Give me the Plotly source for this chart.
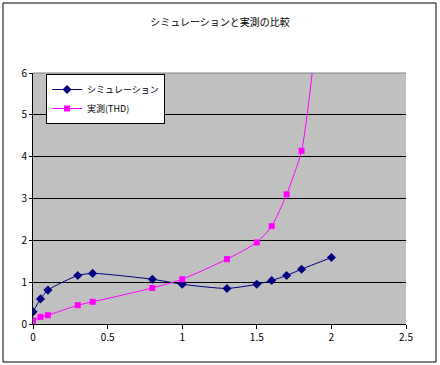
import plotly.graph_objects as go

title = "シミュレーションと実測の比較"
sim_name = "シミュレーション"
meas_name = "実測(THD)"

sim_x = [0.0, 0.05, 0.1, 0.3, 0.4, 0.8, 1.0, 1.3, 1.5, 1.6, 1.7, 1.8, 2.0]
sim_y = [0.29, 0.6, 0.81, 1.16, 1.21, 1.07, 0.95, 0.85, 0.95, 1.04, 1.16, 1.31, 1.59]

meas_x = [0.0, 0.05, 0.1, 0.3, 0.4, 0.8, 1.0, 1.3, 1.5, 1.6, 1.7, 1.8, 1.9]
meas_y = [0.08, 0.17, 0.21, 0.45, 0.53, 0.86, 1.07, 1.55, 1.95, 2.34, 3.1, 4.14, 6.9]

x_ticks = [0, 0.5, 1, 1.5, 2, 2.5]
x_tick_labels = ["0", "0.5", "1", "1.5", "2", "2.5"]
y_ticks = [0, 1, 2, 3, 4, 5, 6]

font = "Noto Sans CJK JP, sans-serif"

fig = go.Figure()
fig.add_trace(go.Scatter(
    x=sim_x, y=sim_y, name=sim_name, mode="lines+markers",
    line=dict(color="#000080", width=1, shape="spline", smoothing=0.6),
    marker=dict(symbol="diamond", size=7, color="#000080"),
))
fig.add_trace(go.Scatter(
    x=meas_x, y=meas_y, name=meas_name, mode="lines+markers",
    line=dict(color="#FF00FF", width=1, shape="spline", smoothing=0.6),
    marker=dict(symbol="square", size=6, color="#FF00FF"),
))

fig.update_layout(
    width=440, height=365,
    margin=dict(l=33, r=34, t=73, b=41),
    paper_bgcolor="white", plot_bgcolor="#C0C0C0",
    font=dict(family=font, size=10, color="black"),
    title=dict(text=title, x=0.5, xanchor="center", y=1 - 22/365, yanchor="middle",
               font=dict(family=font, size=10, color="black")),
    showlegend=True,
    legend=dict(x=0.035, y=0.996, xanchor="left", yanchor="top",
                bgcolor="white", bordercolor="black", borderwidth=1,
                font=dict(family=font, size=9), tracegroupgap=0,
                itemwidth=30),
    xaxis=dict(range=[0, 2.5], tickvals=x_ticks, ticktext=x_tick_labels,
               showgrid=False, zeroline=False, showline=True, linecolor="black",
               linewidth=1, ticks="outside", ticklen=4, tickcolor="black",
               automargin=False, tickfont=dict(family=font, size=10)),
    yaxis=dict(range=[0, 6], tickvals=y_ticks, showgrid=True, gridcolor="black",
               gridwidth=1, zeroline=False, showline=True, linecolor="black",
               linewidth=1, ticks="outside", ticklen=3, tickcolor="black",
               automargin=False, tickfont=dict(family=font, size=10)),
)

# plot-area top border (gray)
fig.add_shape(type="line", xref="paper", yref="paper", x0=0, x1=1, y0=1, y1=1,
              line=dict(color="#808080", width=1))
# chart outer border
fig.add_shape(type="rect", xref="paper", yref="paper",
              x0=(3-33)/373, x1=(436-33)/373, y0=(324-362)/251, y1=(324-3)/251,
              line=dict(color="black", width=1), layer="above")

fig.write_html("out.html", config={"displayModeBar": False},
               post_script="document.body.style.margin='0';document.body.style.overflow='hidden';")
